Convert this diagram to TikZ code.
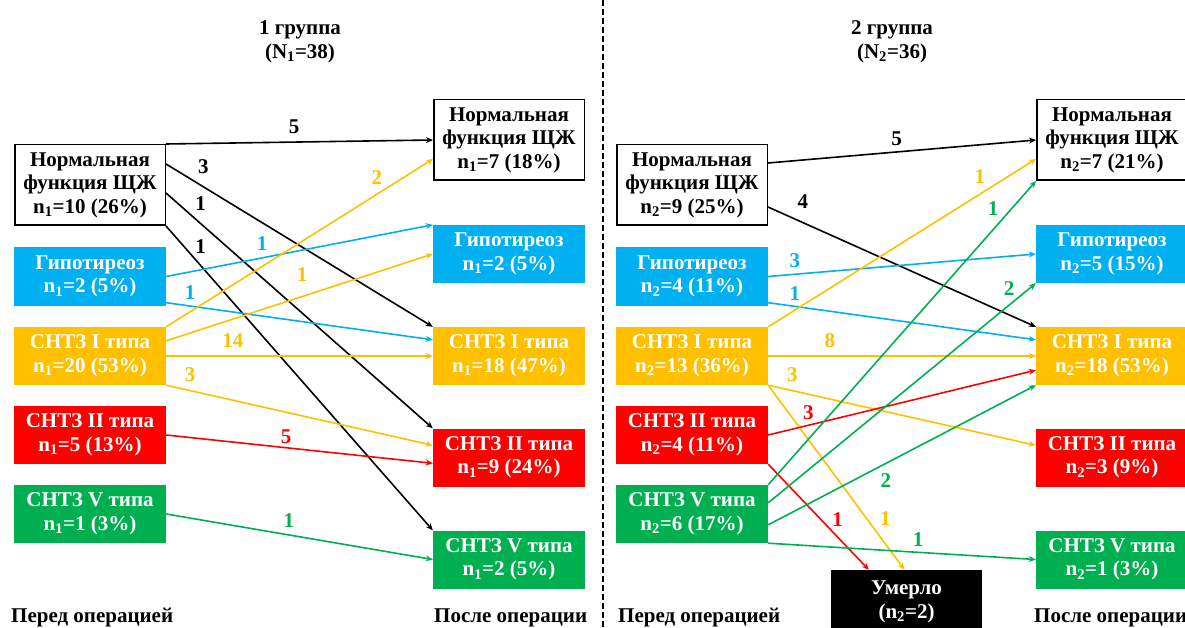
\documentclass[tikz,border=0pt]{standalone}
\usepackage{fontspec}
\setmainfont{Liberation Serif}
\usetikzlibrary{arrows.meta}

\definecolor{hypo_col}{RGB}{0,176,240}
\definecolor{one_col}{RGB}{255,192,0}
\definecolor{two_col}{RGB}{255,0,0}
\definecolor{five_col}{RGB}{0,176,80}
\newcommand{\boxfont}{\fontsize{21}{23.5}\selectfont\bfseries}

\begin{document}
\begin{tikzpicture}[x=1pt,y=-1pt,
	box/.style={rectangle,align=center,inner sep=2pt,minimum width=152pt,minimum height=58pt,font=\boxfont},
	norm_box/.style={box,draw=black,line width=1.5pt,fill=white,minimum width=150.5pt,minimum height=80.5pt},
	hypo_box/.style={box,fill=hypo_col,text=white},
	one_box/.style={box,fill=one_col,text=white},
	two_box/.style={box,fill=two_col,text=white},
	five_box/.style={box,fill=five_col,text=white},
	dead_box/.style={box,fill=black,text=white,minimum width=151pt,minimum height=64pt},
	title/.style={align=center,font=\boxfont},
	side/.style={anchor=base west,inner sep=0pt,font=\boxfont},
	arr/.style={line width=1.6pt,-{Stealth[length=7pt,width=6pt]}},
	lbl/.style={font=\boxfont,inner sep=0pt}]
	\useasboundingbox (0,0) rectangle (1185,628);

	% group 1
	\node[title] (t1) at (300,42) {1 группа\\(N\textsubscript{1}=38)};
	\node[norm_box] (nl1) at (90,185) {Нормальная\\функция ЩЖ\\n\textsubscript{1}=10 (26\%)};
	\node[hypo_box] (gl1) at (90,276.5) {Гипотиреоз\\n\textsubscript{1}=2 (5\%)};
	\node[one_box] (il1) at (90,356) {СНТЗ I типа\\n\textsubscript{1}=20 (53\%)};
	\node[two_box] (iil1) at (90,435) {СНТЗ II типа\\n\textsubscript{1}=5 (13\%)};
	\node[five_box] (vl1) at (90,514) {СНТЗ V типа\\n\textsubscript{1}=1 (3\%)};
	\node[norm_box] (nr1) at (509,140) {Нормальная\\функция ЩЖ\\n\textsubscript{1}=7 (18\%)};
	\node[hypo_box] (gr1) at (509,254) {Гипотиреоз\\n\textsubscript{1}=2 (5\%)};
	\node[one_box] (ir1) at (509,356) {СНТЗ I типа\\n\textsubscript{1}=18 (47\%)};
	\node[two_box] (iir1) at (509,457.5) {СНТЗ II типа\\n\textsubscript{1}=9 (24\%)};
	\node[five_box] (vr1) at (509,559.5) {СНТЗ V типа\\n\textsubscript{1}=2 (5\%)};
	\node[side] (before1) at (11,622) {Перед операцией};
	\node[side] (after1) at (434,622) {После операции};

	\draw[arr,black] (nl1.north east) -- node[lbl,pos=0.48,yshift=15pt] {5} (nr1.west);
	\draw[arr,black] ([yshift=-20pt]nl1.north east) -- node[lbl,pos=0.14,yshift=20pt] {3} (ir1.north west);
	\draw[arr,black] ([yshift=-49pt]nl1.north east) -- node[lbl,pos=0.13,yshift=20pt] {1} (iir1.north west);
	\draw[arr,black] (nl1.south east) -- node[lbl,pos=0.13,yshift=19pt] {1} (vr1.north west);
	\draw[arr,hypo_col] (gl1.east) -- node[lbl,pos=0.36,yshift=14pt] {1} (gr1.north west);
	\draw[arr,hypo_col] ([yshift=3pt]gl1.south east) -- node[lbl,pos=0.09,yshift=13pt] {1} ([yshift=-13pt]ir1.north west);
	\draw[arr,one_col] (il1.north east) -- node[lbl,pos=0.79,yshift=17pt] {2} ([yshift=22pt]nr1.south west);
	\draw[arr,one_col] ([yshift=-14pt]il1.north east) -- node[lbl,pos=0.51,yshift=22pt] {1} (gr1.west);
	\draw[arr,one_col] (il1.east) -- node[lbl,pos=0.25,yshift=15pt] {14} (ir1.west);
	\draw[arr,one_col] (il1.south east) -- node[lbl,pos=0.09,yshift=16pt] {3} ([yshift=-17pt]iir1.north west);
	\draw[arr,two_col] (iil1.east) -- node[lbl,pos=0.45,yshift=11pt] {5} ([yshift=-35pt]iir1.north west);
	\draw[arr,five_col] (vl1.east) -- node[lbl,pos=0.46,yshift=14pt] {1} (vr1.west);

	% separator
	\draw[line width=1.2pt,dash pattern=on 6pt off 3pt] (603,0) -- (603,628);

	% group 2
	\node[title] (t2) at (892,42) {2 группа\\(N\textsubscript{2}=36)};
	\node[norm_box] (nl2) at (692,185) {Нормальная\\функция ЩЖ\\n\textsubscript{2}=9 (25\%)};
	\node[hypo_box] (gl2) at (692,276.5) {Гипотиреоз\\n\textsubscript{2}=4 (11\%)};
	\node[one_box] (il2) at (692,356) {СНТЗ I типа\\n\textsubscript{2}=13 (36\%)};
	\node[two_box] (iil2) at (692,435) {СНТЗ II типа\\n\textsubscript{2}=4 (11\%)};
	\node[five_box] (vl2) at (692,514) {СНТЗ V типа\\n\textsubscript{2}=6 (17\%)};
	\node[norm_box] (nr2) at (1112,140) {Нормальная\\функция ЩЖ\\n\textsubscript{2}=7 (21\%)};
	\node[hypo_box] (gr2) at (1112,254) {Гипотиреоз\\n\textsubscript{2}=5 (15\%)};
	\node[one_box] (ir2) at (1112,356) {СНТЗ I типа\\n\textsubscript{2}=18 (53\%)};
	\node[two_box] (iir2) at (1112,457.5) {СНТЗ II типа\\n\textsubscript{2}=3 (9\%)};
	\node[five_box] (vr2) at (1112,559.5) {СНТЗ V типа\\n\textsubscript{2}=1 (3\%)};
	\node[dead_box] (dead) at (906.5,602) {Умерло\\(n\textsubscript{2}=2)};
	\node[side] (before2) at (618,622) {Перед операцией};
	\node[side] (after2) at (1034,622) {После операции};

	\draw[arr,black] ([yshift=-19pt]nl2.north east) -- node[lbl,pos=0.48,yshift=13pt] {5} (nr2.west);
	\draw[arr,black] ([yshift=19pt]nl2.south east) -- node[lbl,pos=0.13,yshift=21pt] {4} (ir2.north west);
	\draw[arr,hypo_col] (gl2.east) -- node[lbl,pos=0.1,yshift=14pt] {3} (gr2.west);
	\draw[arr,hypo_col] ([yshift=3pt]gl2.south east) -- node[lbl,pos=0.1,yshift=13pt] {1} ([yshift=-13pt]ir2.north west);
	\draw[arr,one_col] (il2.north east) -- node[lbl,pos=0.79,yshift=18pt] {1} ([yshift=22pt]nr2.south west);
	\draw[arr,one_col] (il2.east) -- node[lbl,pos=0.23,yshift=15pt] {8} (ir2.west);
	\draw[arr,one_col] (il2.south east) -- node[lbl,pos=0.09,yshift=16pt] {3} ([yshift=-17pt]iir2.north west);
	\draw[arr,one_col] (il2.south east) -- node[lbl,pos=0.72,xshift=19pt] {1} ([xshift=-2pt]dead.north);
	\draw[arr,two_col] (iil2.east) -- node[lbl,pos=0.15,yshift=13pt] {3} ([yshift=15pt]ir2.south west);
	\draw[arr,two_col] (iil2.south east) -- node[lbl,pos=0.52,xshift=17pt] {1} ([xshift=38pt]dead.north west);
	\draw[arr,five_col] (vl2.north east) -- node[lbl,pos=0.84,yshift=21pt] {1} (nr2.south west);
	\draw[arr,five_col] ([yshift=-18pt]vl2.north east) -- node[lbl,pos=0.9,yshift=17pt] {2} (gr2.south west);
	\draw[arr,five_col] ([yshift=-40pt]vl2.north east) -- node[lbl,pos=0.44,yshift=-17pt] {2} (ir2.south west);
	\draw[arr,five_col] (vl2.south east) -- node[lbl,pos=0.56,yshift=13pt] {1} (vr2.west);
\end{tikzpicture}
\end{document}
